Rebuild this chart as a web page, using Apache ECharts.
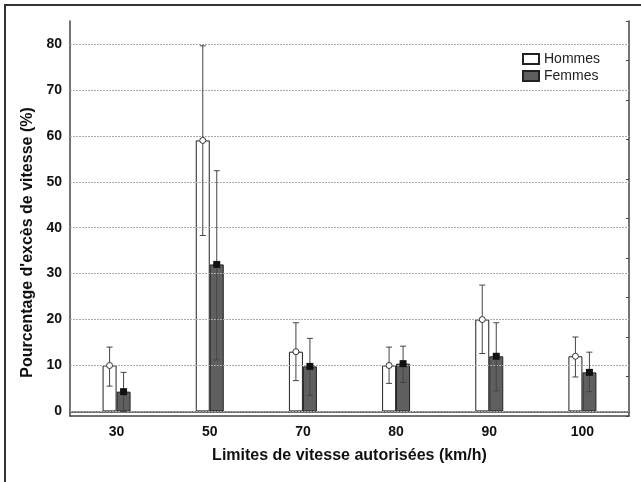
<!DOCTYPE html>
<html>
<head>
<meta charset="utf-8">
<script src="https://cdn.jsdelivr.net/npm/echarts@6/dist/echarts.min.js"></script>
<style>
  html, body { margin: 0; padding: 0; background: #fff; }
  #frame {
    position: absolute; left: 4px; top: 4px; width: 637px; height: 478px;
    border-left: 2px solid #333; border-top: 2px solid #333;
  }
  #chart { position: absolute; left: 0; top: 0; width: 641px; height: 482px; }
</style>
</head>
<body>
<div id="frame"></div>
<div id="chart"></div>
<script>
// limites de vitesse (km/h)
const categories = ['30', '50', '70', '80', '90', '100'];
// % d'excès de vitesse, moyenne et bornes des barres d'erreur
const hommes = [10, 59, 13, 10, 20, 12];
const hommesLow = [5.5, 38.3, 6.7, 6.1, 12.6, 7.5];
const hommesHigh = [14, 79.6, 19.3, 14, 27.5, 16.2];
const femmes = [4.3, 32, 9.8, 10.4, 12, 8.5];
const femmesLow = [0, 11.2, 3.5, 6.3, 4.5, 4.3];
const femmesHigh = [8.5, 52.4, 15.9, 14.2, 19.3, 12.9];
const yTicks = [0, 10, 20, 30, 40, 50, 60, 70, 80];

const BAR_W = 14;
const FONT = 'Liberation Sans, Arial, sans-serif';

const errData = (mean, low, high) => mean.map((v, i) => [i, v, low[i], high[i]]);

// barre d'erreur + marqueur au sommet de la barre
const errorRender = (shift, marker) => (params, api) => {
  const top = api.coord([api.value(0), api.value(3)]);
  const bot = api.coord([api.value(0), api.value(2)]);
  const mid = api.coord([api.value(0), api.value(1)]);
  const x = top[0] + shift;
  const line = { stroke: '#444', lineWidth: 1 };
  const children = [
    { type: 'line', shape: { x1: x, y1: top[1], x2: x, y2: bot[1] }, style: line },
    { type: 'line', shape: { x1: x - 3, y1: top[1], x2: x + 3, y2: top[1] }, style: line },
    { type: 'line', shape: { x1: x - 3, y1: bot[1], x2: x + 3, y2: bot[1] }, style: line }
  ];
  if (marker === 'circle') {
    children.push({ type: 'circle', shape: { cx: x, cy: mid[1], r: 3 }, style: { fill: '#fff', stroke: '#333', lineWidth: 1 } });
  } else {
    children.push({ type: 'rect', shape: { x: x - 3.5, y: mid[1] - 3.5, width: 7, height: 7 }, style: { fill: '#111' } });
  }
  return { type: 'group', children };
};

const chart = echarts.init(document.getElementById('chart'));
chart.setOption({
  backgroundColor: 'transparent',
  animation: false,
  textStyle: { fontFamily: FONT },
  grid: { left: 70, right: 12, top: 21, bottom: 66 },
  legend: {
    orient: 'vertical',
    left: 517, top: 47,
    icon: 'rect',
    itemWidth: 16, itemHeight: 10, itemGap: 3,
    textStyle: { fontSize: 14, color: '#222', fontFamily: FONT },
    data: ['Hommes', 'Femmes']
  },
  xAxis: [
    {
      type: 'category',
      data: categories,
      name: 'Limites de vitesse autorisées (km/h)',
      nameLocation: 'middle',
      nameGap: 32,
      nameTextStyle: { fontSize: 16, fontWeight: 'bold', color: '#111' },
      axisLine: { lineStyle: { color: '#444', width: 1.5 } },
      axisTick: { show: false },
      axisLabel: { fontSize: 14, fontWeight: 'bold', color: '#111', margin: 9 }
    },
    {
      type: 'category',
      data: categories,
      position: 'top',
      axisLine: { lineStyle: { color: '#444', width: 1.5 } },
      axisTick: { inside: true, length: 3, alignWithLabel: true, lineStyle: { color: '#444' } },
      axisLabel: { show: false }
    }
  ],
  yAxis: [
    {
      type: 'value',
      min: -1, max: 85,
      name: "Pourcentage d'excès de vitesse (%)",
      nameLocation: 'middle',
      nameGap: 29,
      nameTextStyle: { fontSize: 16, fontWeight: 'bold', color: '#111', padding: [0, 48, 0, 0] },
      axisLine: { show: true, lineStyle: { color: '#444', width: 1.5 } },
      axisTick: { show: false, customValues: yTicks },
      axisLabel: { fontSize: 14, fontWeight: 'bold', color: '#111', margin: 8, customValues: yTicks },
      splitLine: { show: false }
    },
    {
      type: 'value',
      position: 'right',
      min: 0, max: 10, interval: 1,
      axisLine: { show: true, lineStyle: { color: '#444', width: 1.5 } },
      axisTick: { show: true, inside: true, length: 3, lineStyle: { color: '#444' } },
      axisLabel: { show: false },
      splitLine: { show: false }
    }
  ],
  series: [
    {
      name: 'Hommes',
      type: 'bar',
      data: hommes,
      barWidth: BAR_W,
      barGap: '0%',
      itemStyle: { color: '#fff', borderColor: '#222', borderWidth: 1 },
      markLine: {
        silent: true,
        symbol: 'none',
        label: { show: false },
        lineStyle: { color: '#aaa', type: [2, 1], width: 1 },
        data: yTicks.map(v => ({ yAxis: v }))
      },
      z: 3
    },
    {
      name: 'Femmes',
      type: 'bar',
      data: femmes,
      barWidth: BAR_W,
      barGap: '0%',
      itemStyle: { color: '#5f5f5f', borderColor: '#222', borderWidth: 1 },
      z: 3
    },
    {
      type: 'custom',
      renderItem: errorRender(-BAR_W / 2, 'circle'),
      data: errData(hommes, hommesLow, hommesHigh),
      encode: { x: 0, y: [2, 3] },
      z: 5
    },
    {
      type: 'custom',
      renderItem: errorRender(BAR_W / 2, 'square'),
      data: errData(femmes, femmesLow, femmesHigh),
      encode: { x: 0, y: [2, 3] },
      z: 5
    }
  ]
});
</script>
</body>
</html>
